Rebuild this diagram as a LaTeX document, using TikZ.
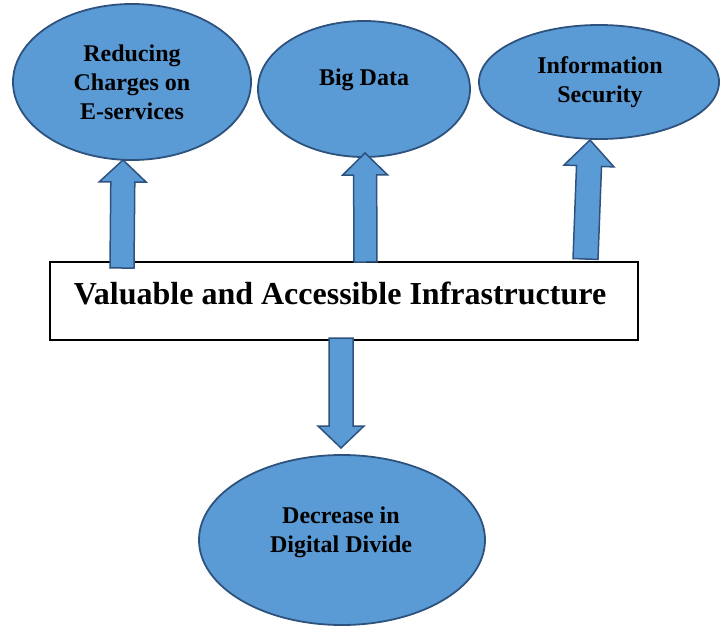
\documentclass[tikz,border=0pt]{standalone}
\usepackage{fontspec}
\setmainfont{Liberation Serif}
\usetikzlibrary{shapes.geometric,calc}
\definecolor{bfill}{RGB}{91,155,213}
\definecolor{bline}{RGB}{46,82,126}
% #1 base, #2 tip, #3 shaft half width, #4 head half width, #5 head length
\newcommand\blockarrow[5]{%
  \coordinate (ba-h) at ($(#2)!#5!(#1)$);
  \draw[arrowshape] ($(#1)!#3!90:(#2)$) -- ($(ba-h)!#3!90:(#2)$) -- ($(ba-h)!#4!90:(#2)$) -- (#2)
    -- ($(ba-h)!#4!-90:(#2)$) -- ($(ba-h)!#3!-90:(#2)$) -- ($(#1)!#3!-90:(#2)$) -- cycle;}
\begin{document}
\begin{tikzpicture}[x=1pt,y=-1pt,
  ell/.style={ellipse, draw=bline, fill=bfill, line width=1.8pt, inner sep=0pt},
  lbl/.style={align=center, inner sep=0pt, font=\fontsize{24}{29}\selectfont\bfseries},
  arrowshape/.style={draw=bline, fill=bfill, line width=1.5pt, line join=miter},
  mainbox/.style={draw=black, line width=1.4pt, fill=white, inner sep=0pt}]
\useasboundingbox (0,0) rectangle (725,626);
% ellipses
\node[ell, minimum width=238pt, minimum height=156pt] (e1) at (132,82) {};
\node[ell, minimum width=212pt, minimum height=136pt] (e2) at (364,89) {};
\node[ell, minimum width=240pt, minimum height=114pt] (e3) at (599,82) {};
\node[ell, minimum width=286pt, minimum height=170pt] (e4) at (342,540) {};
\node[lbl] (t1) at (132,82) {Reducing\\Charges on\\E-services};
\node[lbl] (t2) at (364,80) {Big Data};
\node[lbl] (t3) at (600,82) {Information\\Security};
\node[lbl] (t4) at (341,532) {Decrease in\\Digital Divide};
% main box
\node[mainbox, minimum width=588pt, minimum height=78pt] (box) at (344,301) {};
\node[inner sep=0pt, font=\fontsize{32}{38}\selectfont\bfseries] (bt) at (340,293) {Valuable and Accessible Infrastructure};
% arrow endpoints
\coordinate (a1b) at (122,268); \coordinate (a1t) at (123,160);
\coordinate (a2b) at (365.5,262); \coordinate (a2t) at (365,153);
\coordinate (a3b) at (585.5,259); \coordinate (a3t) at (590,140);
\coordinate (a4b) at (341,338); \coordinate (a4t) at (341,448);
\blockarrow{a1b}{a1t}{12pt}{23.5pt}{22pt}
\blockarrow{a2b}{a2t}{11.5pt}{22.5pt}{22pt}
\blockarrow{a3b}{a3t}{12.5pt}{25pt}{26pt}
\blockarrow{a4b}{a4t}{12pt}{23pt}{22pt}
\end{tikzpicture}
\end{document}
